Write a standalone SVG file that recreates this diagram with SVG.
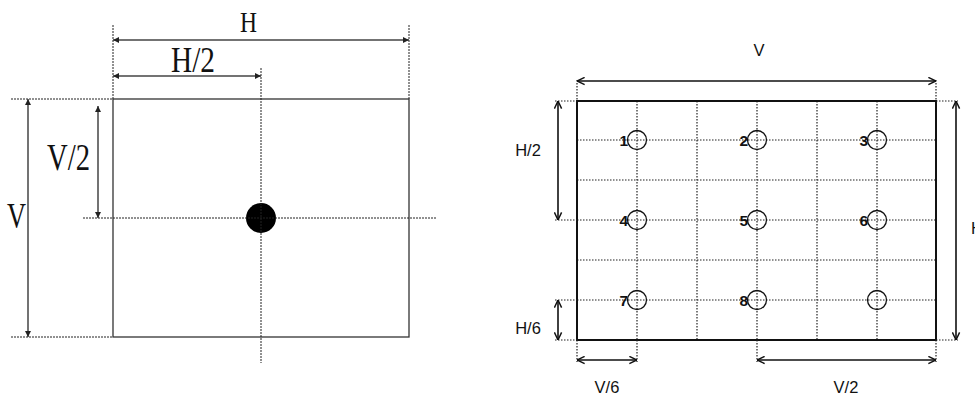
<svg xmlns="http://www.w3.org/2000/svg" width="975" height="397" viewBox="0 0 975 397">
<style>
.bg{fill:#fff}
.lrect{fill:none;stroke:#333;stroke-width:1.3}
.ldot{fill:none;stroke:#222;stroke-width:1;stroke-dasharray:2,1}
.larr{fill:none;stroke:#444;stroke-width:1.5;marker-start:url(#fa);marker-end:url(#fa)}
.ltxt{font-family:"Liberation Serif",serif;fill:#111}
.rrect{fill:none;stroke:#111;stroke-width:2}
.rdot{fill:none;stroke:#222;stroke-width:1.2;stroke-dasharray:1.5,1.5}
.rarr{fill:none;stroke:#111;stroke-width:1.6;marker-start:url(#oa);marker-end:url(#oa)}
.rtxt{font-family:"Liberation Sans",Arial,sans-serif;font-size:16.5px;fill:#111}
.num{font-family:"Liberation Sans",Arial,sans-serif;font-size:15.5px;font-weight:bold;fill:#111;text-anchor:end}
.hole{fill:none;stroke:#111;stroke-width:1.3}
</style>
<defs>
<marker id="fa" viewBox="0 0 10 10" refX="10" refY="5" markerWidth="8" markerHeight="6" markerUnits="userSpaceOnUse" orient="auto-start-reverse">
<path d="M0,0 L10,5 L0,10 Z" fill="#222"/>
</marker>
<marker id="oa" viewBox="0 0 10 10" refX="9.5" refY="5" markerWidth="9" markerHeight="9" markerUnits="userSpaceOnUse" orient="auto-start-reverse">
<path d="M1,1 L9.5,5 L1,9" fill="none" stroke="#111" stroke-width="1.6"/>
</marker>
</defs>
<rect class="bg" x="0" y="0" width="975" height="397"/>

<g id="left-diagram">
<rect class="lrect" x="113" y="99" width="296" height="238"/>
<circle cx="261" cy="218" r="15" fill="#000"/>
</g>

<g id="left-connectors">
<line class="ldot" x1="261" y1="68" x2="261" y2="363"/>
<line class="ldot" x1="83" y1="218" x2="437" y2="218"/>
<line class="ldot" x1="11" y1="99" x2="113" y2="99"/>
<line class="ldot" x1="11" y1="337" x2="113" y2="337"/>
<line class="ldot" x1="113" y1="25" x2="113" y2="99"/>
<line class="ldot" x1="409" y1="25" x2="409" y2="99"/>
<line class="larr" x1="113" y1="40" x2="409" y2="40"/>
<line class="larr" x1="113" y1="76" x2="261" y2="76"/>
<line class="larr" x1="28" y1="99" x2="28" y2="337"/>
<line class="larr" x1="98" y1="106" x2="98" y2="218"/>
</g>

<g id="left-labels">
<text class="ltxt" x="240" y="32" font-size="29" textLength="17" lengthAdjust="spacingAndGlyphs">H</text>
<text class="ltxt" x="171" y="72" font-size="36" textLength="44" lengthAdjust="spacingAndGlyphs">H/2</text>
<text class="ltxt" x="47" y="170" font-size="37" textLength="43" lengthAdjust="spacingAndGlyphs">V/2</text>
<text class="ltxt" x="7" y="228" font-size="35" textLength="19" lengthAdjust="spacingAndGlyphs">V</text>
</g>

<g id="right-grid">
<line class="rdot" x1="637" y1="101" x2="637" y2="340"/>
<line class="rdot" x1="697" y1="101" x2="697" y2="340"/>
<line class="rdot" x1="757" y1="101" x2="757" y2="340"/>
<line class="rdot" x1="817" y1="101" x2="817" y2="340"/>
<line class="rdot" x1="877" y1="101" x2="877" y2="340"/>
<line class="rdot" x1="577" y1="140" x2="936" y2="140"/>
<line class="rdot" x1="577" y1="180" x2="936" y2="180"/>
<line class="rdot" x1="577" y1="220" x2="936" y2="220"/>
<line class="rdot" x1="577" y1="260" x2="936" y2="260"/>
<line class="rdot" x1="577" y1="300" x2="936" y2="300"/>
</g>

<g id="right-frame">
<rect class="rrect" x="577" y="101" width="359" height="239"/>
</g>

<g id="hole-1"><circle class="hole" cx="637" cy="140" r="9.5"/><text class="num" x="628" y="145.5">1</text></g>
<g id="hole-2"><circle class="hole" cx="757" cy="140" r="9.5"/><text class="num" x="748" y="145.5">2</text></g>
<g id="hole-3"><circle class="hole" cx="877" cy="140" r="9.5"/><text class="num" x="868" y="145.5">3</text></g>
<g id="hole-4"><circle class="hole" cx="637" cy="220" r="9.5"/><text class="num" x="628" y="225.5">4</text></g>
<g id="hole-5"><circle class="hole" cx="757" cy="220" r="9.5"/><text class="num" x="748" y="225.5">5</text></g>
<g id="hole-6"><circle class="hole" cx="877" cy="220" r="9.5"/><text class="num" x="868" y="225.5">6</text></g>
<g id="hole-7"><circle class="hole" cx="637" cy="300" r="9.5"/><text class="num" x="628" y="305.5">7</text></g>
<g id="hole-8"><circle class="hole" cx="757" cy="300" r="9.5"/><text class="num" x="748" y="305.5">8</text></g>
<g id="hole-9"><circle class="hole" cx="877" cy="300" r="9.5"/></g>

<g id="right-connectors">
<line class="rdot" x1="577" y1="80" x2="577" y2="101"/>
<line class="rdot" x1="936" y1="80" x2="936" y2="101"/>
<line class="rarr" x1="577" y1="81" x2="936" y2="81"/>
<line class="rdot" x1="555" y1="101" x2="577" y2="101"/>
<line class="rdot" x1="555" y1="220" x2="577" y2="220"/>
<line class="rdot" x1="555" y1="300" x2="577" y2="300"/>
<line class="rdot" x1="555" y1="340" x2="577" y2="340"/>
<line class="rarr" x1="558" y1="101" x2="558" y2="220"/>
<line class="rarr" x1="558" y1="300" x2="558" y2="340"/>
<line class="rdot" x1="577" y1="340" x2="577" y2="362"/>
<line class="rdot" x1="637" y1="340" x2="637" y2="362"/>
<line class="rdot" x1="757" y1="340" x2="757" y2="362"/>
<line class="rdot" x1="936" y1="340" x2="936" y2="362"/>
<line class="rarr" x1="577" y1="360" x2="637" y2="360"/>
<line class="rarr" x1="757" y1="360" x2="936" y2="360"/>
<line class="rdot" x1="936" y1="101" x2="958" y2="101"/>
<line class="rdot" x1="936" y1="340" x2="958" y2="340"/>
<line class="rarr" x1="956" y1="101" x2="956" y2="340"/>
</g>

<g id="right-labels">
<text class="rtxt" x="759" y="56" text-anchor="middle">V</text>
<text class="rtxt" x="528" y="156" text-anchor="middle">H/2</text>
<text class="rtxt" x="528" y="334" text-anchor="middle">H/6</text>
<text class="rtxt" x="607" y="393" text-anchor="middle">V/6</text>
<text class="rtxt" x="846" y="393" text-anchor="middle">V/2</text>
<text class="rtxt" x="971" y="234">H</text>
</g>
</svg>
